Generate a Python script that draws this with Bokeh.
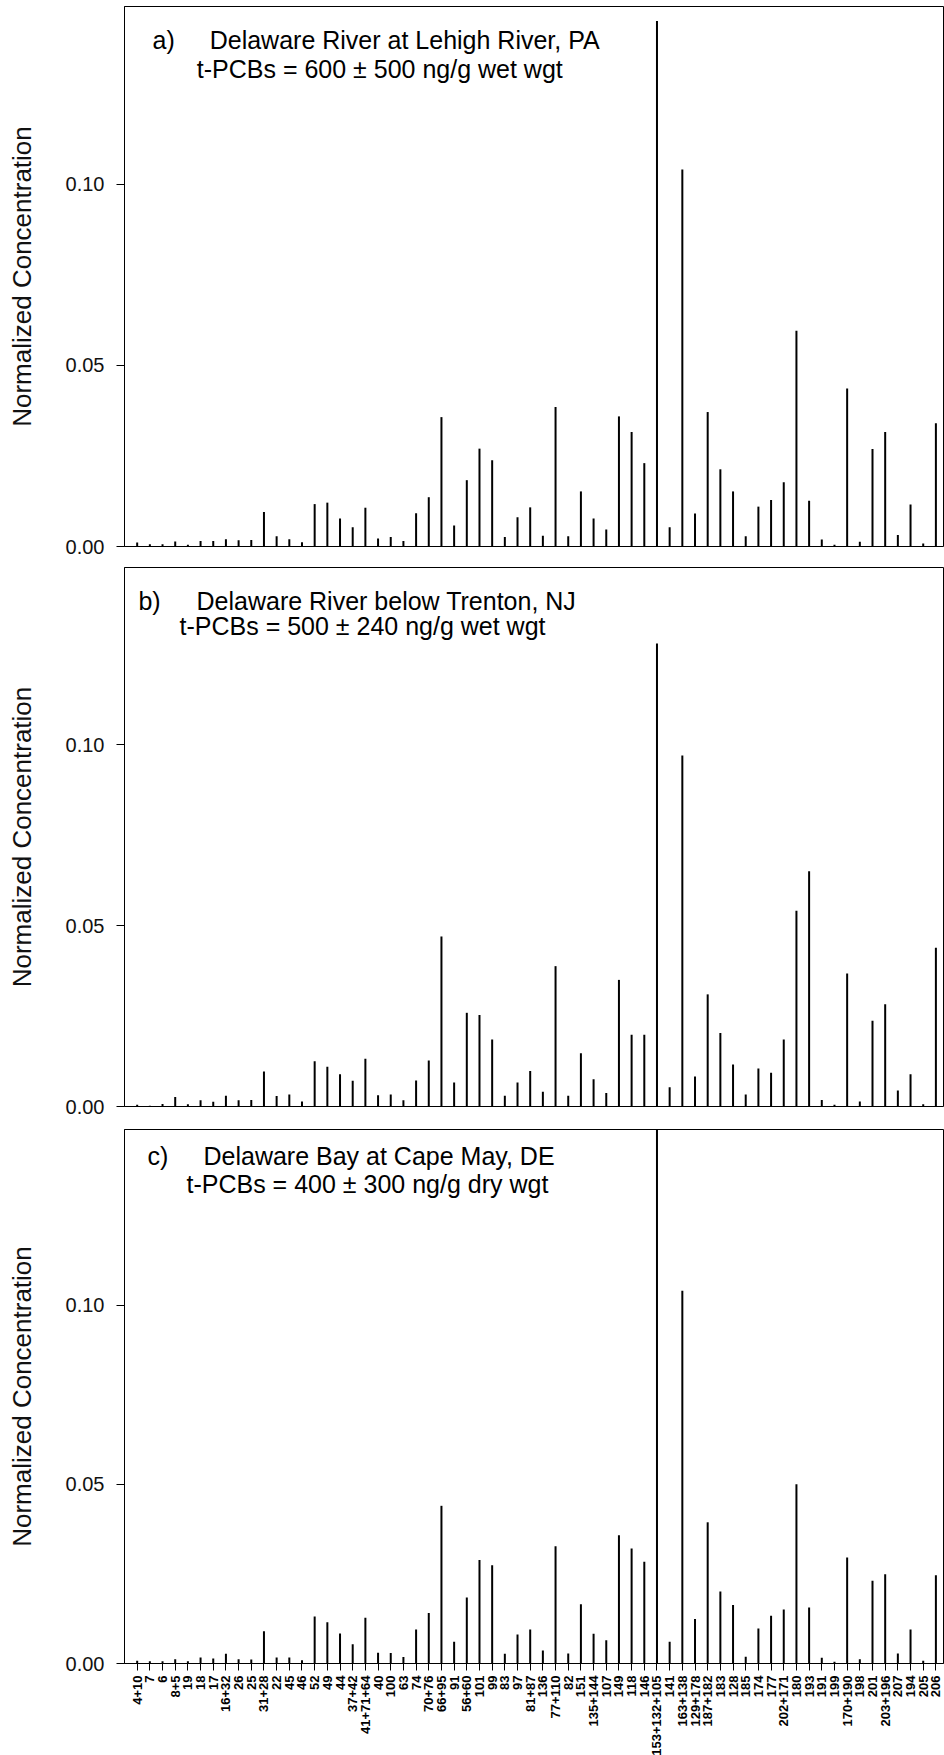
import math
from bokeh.plotting import figure
from bokeh.models import Range1d, FixedTicker, Label, ColumnDataSource, NumeralTickFormatter
from bokeh.layouts import column
from bokeh.embed import file_html
from bokeh.resources import INLINE

congeners = ["4+10", "7", "6", "8+5", "19", "18", "17", "16+32", "26", "25", "31+28", "22", "45", "46",
             "52", "49", "44", "37+42", "41+71+64", "40", "100", "63", "74", "70+76", "66+95", "91",
             "56+60", "101", "99", "83", "97", "81+87", "136", "77+110", "82", "151", "135+144", "107",
             "149", "118", "146", "153+132+105", "141", "163+138", "129+178", "187+182", "183", "128",
             "185", "174", "177", "202+171", "180", "193", "191", "199", "170+190", "198", "201",
             "203+196", "207", "194", "205", "206"]

lehigh = [0.0011, 0.0006, 0.0006, 0.0014, 0.0005, 0.0015, 0.0015, 0.0020, 0.0017, 0.0018,
          0.0095, 0.0028, 0.0020, 0.0012, 0.0117, 0.0121, 0.0077, 0.0053, 0.0107, 0.0022,
          0.0026, 0.0015, 0.0092, 0.0136, 0.0357, 0.0058, 0.0183, 0.0270, 0.0238, 0.0026,
          0.0081, 0.0108, 0.0030, 0.0385, 0.0028, 0.0152, 0.0077, 0.0047, 0.0359, 0.0316,
          0.0230, 0.1450, 0.0053, 0.1040, 0.0091, 0.0371, 0.0213, 0.0152, 0.0028, 0.0110,
          0.0128, 0.0177, 0.0595, 0.0126, 0.0019, 0.0005, 0.0436, 0.0013, 0.0269, 0.0316,
          0.0032, 0.0116, 0.0008, 0.0340]

trenton = [0.0005, 0.0002, 0.0007, 0.0026, 0.0006, 0.0017, 0.0013, 0.0030, 0.0017, 0.0018,
           0.0097, 0.0029, 0.0033, 0.0014, 0.0125, 0.0110, 0.0089, 0.0071, 0.0132, 0.0031,
           0.0033, 0.0017, 0.0072, 0.0127, 0.0470, 0.0066, 0.0259, 0.0253, 0.0185, 0.0030,
           0.0066, 0.0098, 0.0041, 0.0388, 0.0030, 0.0147, 0.0075, 0.0037, 0.0350, 0.0198,
           0.0198, 0.1280, 0.0053, 0.0970, 0.0083, 0.0310, 0.0203, 0.0116, 0.0033, 0.0105,
           0.0093, 0.0185, 0.0541, 0.0650, 0.0018, 0.0005, 0.0368, 0.0014, 0.0237, 0.0283,
           0.0044, 0.0089, 0.0006, 0.0439]

capemay = [0.0008, 0.0006, 0.0006, 0.0012, 0.0006, 0.0017, 0.0014, 0.0027, 0.0012, 0.0011,
           0.0090, 0.0017, 0.0017, 0.0009, 0.0131, 0.0115, 0.0084, 0.0054, 0.0128, 0.0030,
           0.0029, 0.0018, 0.0095, 0.0141, 0.0440, 0.0061, 0.0184, 0.0289, 0.0274, 0.0027,
           0.0081, 0.0095, 0.0036, 0.0327, 0.0028, 0.0165, 0.0083, 0.0065, 0.0358, 0.0321,
           0.0284, 0.1550, 0.0061, 0.1040, 0.0124, 0.0394, 0.0201, 0.0163, 0.0019, 0.0098,
           0.0133, 0.0151, 0.0500, 0.0156, 0.0016, 0.0005, 0.0296, 0.0012, 0.0231, 0.0249,
           0.0028, 0.0095, 0.0008, 0.0246]

y_ticks = [0.00, 0.05, 0.10]
panel_letters = ["a)", "b)", "c)"]
panel_sites = ["Delaware River at Lehigh River, PA",
               "Delaware River below Trenton, NJ",
               "Delaware Bay at Cape May, DE"]
panel_totals = ["t-PCBs = 600 \u00b1 500 ng/g wet wgt",
                "t-PCBs = 500 \u00b1 240 ng/g wet wgt",
                "t-PCBs = 400 \u00b1 300 ng/g dry wgt"]

FONT = "Liberation Sans"
xs = list(range(1, len(congeners) + 1))


def make_panel(vals, idx, frame_h, top_b, bot_b, show_x, txt_pos):
    p = figure(frame_width=819, frame_height=frame_h,
               min_border_left=124, min_border_right=1,
               min_border_top=top_b, min_border_bottom=bot_b,
               x_range=Range1d(0, 64.6), y_range=Range1d(0, 0.149),
               output_backend="svg", toolbar_location=None)
    p.background_fill_color = "white"
    p.border_fill_color = "white"
    p.outline_line_color = "black"
    p.outline_line_width = 1
    p.xgrid.visible = False
    p.ygrid.visible = False

    src = ColumnDataSource(dict(x=xs, v=vals))
    p.segment(x0="x", y0=0, x1="x", y1="v", source=src,
              line_color="black", line_width=2, line_cap="butt")

    ya = p.yaxis[0]
    ya.ticker = FixedTicker(ticks=y_ticks)
    ya.formatter = NumeralTickFormatter(format="0.00")
    ya.axis_label = "Normalized Concentration"
    ya.axis_label_text_font = FONT
    ya.axis_label_text_font_style = "normal"
    ya.axis_label_text_font_size = "26px"
    ya.axis_label_text_color = "#111111"
    ya.axis_label_standoff = 26
    ya.major_label_text_font = FONT
    ya.major_label_text_font_size = "20px"
    ya.major_label_text_color = "#111111"
    ya.major_label_standoff = 12
    ya.major_tick_out = 8
    ya.major_tick_in = 0
    ya.minor_tick_out = 0
    ya.minor_tick_in = 0
    ya.axis_line_color = "black"
    ya.major_tick_line_color = "black"

    xa = p.xaxis[0]
    if show_x:
        xa.ticker = FixedTicker(ticks=xs)
        xa.major_label_overrides = {x: c for x, c in zip(xs, congeners)}
        xa.major_label_orientation = math.pi / 2
        xa.major_label_text_font = FONT
        xa.major_label_text_font_style = "bold"
        xa.major_label_text_font_size = "13px"
        xa.major_label_text_color = "black"
        xa.major_label_standoff = 5
        xa.major_tick_out = 7
        xa.major_tick_in = 0
        xa.minor_tick_out = 0
        xa.minor_tick_in = 0
        xa.axis_line_color = "black"
        xa.major_tick_line_color = "black"
    else:
        xa.visible = False

    (xl, xt1, xt2, y1, y2) = txt_pos
    for x, y, t in [(xl, y1, panel_letters[idx]), (xt1, y1, panel_sites[idx]),
                    (xt2, y2, panel_totals[idx])]:
        p.add_layout(Label(x=x, y=y, text=t, text_font=FONT, text_font_size="25px",
                           text_color="black", text_baseline="alphabetic",
                           text_align="left"))
    return p


pa = make_panel(lehigh, 0, 540, 6, 20, False, (2.21, 6.72, 5.70, 0.1398, 0.1318))
pb = make_panel(trenton, 1, 539, 1, 22, False, (1.10, 5.68, 4.34, 0.1398, 0.1329))
pc = make_panel(capemay, 2, 534, 1, 40, True, (1.81, 6.23, 4.89, 0.1416, 0.1338))

layout = column(pa, pb, pc, spacing=0)
open("out.html", "w").write(file_html(layout, INLINE))
